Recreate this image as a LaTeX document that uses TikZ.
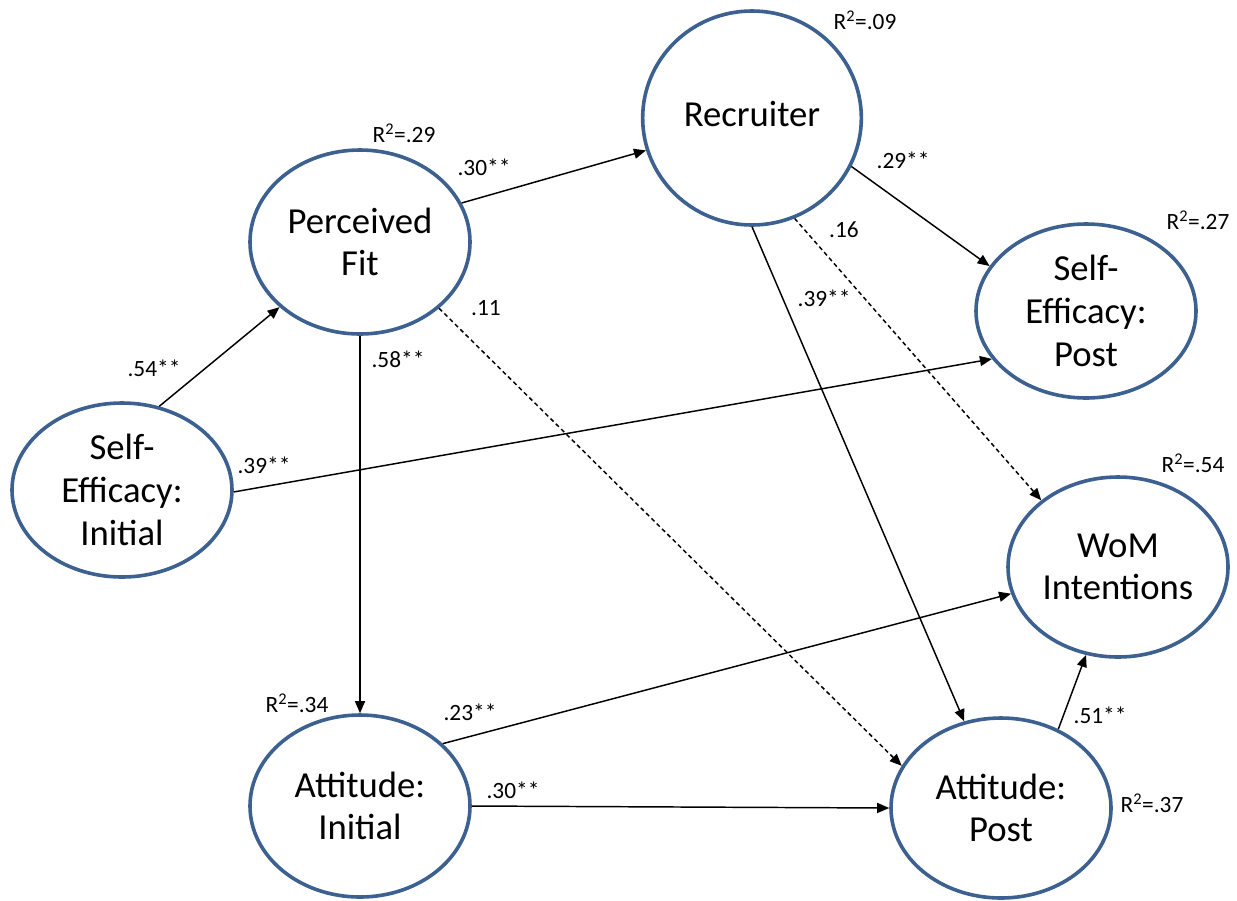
\documentclass[tikz,border=0pt]{standalone}
\usepackage{fontspec}
\setmainfont{Carlito}
\usetikzlibrary{shapes.geometric,arrows.meta}
\definecolor{ecol}{RGB}{60,96,143}
\tikzset{
  lat/.style={ellipse, draw=ecol, line width=2.7pt, minimum width=165pt, inner sep=0pt, align=center, font=\fontsize{27.5}{32}\selectfont},
  pth/.style={line width=1.1pt, -{Triangle[length=9pt,width=7.5pt]}},
  dpth/.style={pth, dash pattern=on 3.2pt off 2.4pt},
  lbl/.style={font=\fontsize{17.5}{20}\selectfont, inner sep=0pt}
}
\begin{document}
\begin{tikzpicture}[x=0.75pt,y=-0.75pt]
\useasboundingbox (0,0) rectangle (1237,900);
% latent variables
\node[lat, minimum height=130.5pt] (sei) at (122,490) {Self-\\Efficacy:\\Initial};
\node[lat, minimum height=138pt] (pf) at (360,242) {Perceived\\Fit};
\node[lat, minimum height=160.5pt, minimum width=164pt] (rec) at (752,118) {};
\node[font=\fontsize{27.5}{32}\selectfont, inner sep=0pt] (rect) at (752,114) {Recruiter};
\node[lat, minimum height=130.5pt] (sep) at (1086,311) {Self-\\Efficacy:\\Post};
\node[lat, minimum height=135pt] (wom) at (1118,567) {WoM\\Intentions};
\node[lat, minimum height=136.5pt] (ai) at (360,806) {Attitude:\\Initial};
\node[lat, minimum height=135pt] (ap) at (1001,808) {Attitude:\\Post};
% paths
\draw[pth] (sei.66) -- (pf.219.9);
\draw[pth] (pf.21.3) -- (rec.197.3);
\draw[pth] (pf.south) -- (ai.north);
\draw[dpth] (pf.-40.6) -- (ap.157.8);
\draw[pth] (rec.-26.8) -- (sep.155);
\draw[pth] (rec.-90) -- (ap.113.4);
\draw[dpth] (rec.-67.1) -- (wom.139.3);
\draw[pth] (sei.-1.5) -- (sep.207.9);
\draw[pth] (ai.37) -- (wom.194.7);
\draw[pth] (ai.east) -- (ap.west);
\draw[pth] (ap.54.8) -- (wom.250.6);
% path coefficients
\node[lbl] (l1) at (154,368) {.54**};
\node[lbl] (l2) at (484,167) {.30**};
\node[lbl] (l3) at (398,359) {.58**};
\node[lbl] (l4) at (486,308) {.11};
\node[lbl] (l5) at (903,160) {.29**};
\node[lbl] (l6) at (824,298) {.39**};
\node[lbl] (l7) at (844,230) {.16};
\node[lbl] (l8) at (264,465) {.39**};
\node[lbl] (l9) at (470,712) {.23**};
\node[lbl] (l10) at (513,790) {.30**};
\node[lbl] (l11) at (1100,715) {.51**};
% R squared
\node[lbl] (r1) at (404,133) {R\textsuperscript{2}=.29};
\node[lbl] (r2) at (865,20) {R\textsuperscript{2}=.09};
\node[lbl] (r3) at (1198,220) {R\textsuperscript{2}=.27};
\node[lbl] (r4) at (1193,463) {R\textsuperscript{2}=.54};
\node[lbl] (r5) at (297,703) {R\textsuperscript{2}=.34};
\node[lbl] (r6) at (1152,803) {R\textsuperscript{2}=.37};
\end{tikzpicture}
\end{document}
